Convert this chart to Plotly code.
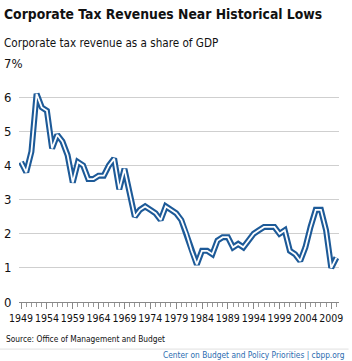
import plotly.graph_objects as go

years = list(range(1949, 2011))
revenue = [4.1, 3.8, 4.4, 6.1, 5.7, 5.6, 4.5, 4.9, 4.7, 4.3, 3.5, 4.1, 4.0, 3.6, 3.6, 3.7,
           3.7, 4.0, 4.2, 3.3, 3.9, 3.2, 2.5, 2.7, 2.8, 2.7, 2.6, 2.4, 2.8, 2.7, 2.6,
           2.4, 2.0, 1.5, 1.1, 1.5, 1.5, 1.4, 1.8, 1.9, 1.9, 1.6, 1.7, 1.6, 1.8, 2.0,
           2.1, 2.2, 2.2, 2.2, 2.0, 2.1, 1.5, 1.4, 1.2, 1.6, 2.2, 2.7, 2.7, 2.1, 1.0, 1.3]
x_ticks = [1949, 1954, 1959, 1964, 1969, 1974, 1979, 1984, 1989, 1994, 1999, 2004, 2009]
y_ticks = [0, 1, 2, 3, 4, 5, 6, 7]
y_labels = ["0", "1", "2", "3", "4", "5", "6", "7%"]

FONT = "DejaVu Sans Condensed, Liberation Sans Narrow, sans-serif"
BLUE = "#1d5a98"

fig = go.Figure()
fig.add_trace(go.Scatter(x=years, y=revenue, mode="lines",
                         line=dict(color=BLUE, width=6), hoverinfo="skip"))
fig.add_trace(go.Scatter(x=years, y=revenue, mode="lines",
                         line=dict(color="white", width=1.8), hoverinfo="skip"))

for v, lab in zip(y_ticks, y_labels):
    fig.add_annotation(x=0, xref="paper", xshift=-17, y=v, yref="y", text=lab,
                       showarrow=False, xanchor="left", yanchor="middle",
                       font=dict(family=FONT, size=13, color="#111"))

fig.add_annotation(x=0, y=1, xref="paper", yref="paper", xshift=-17, yshift=39,
                   text="<b>Corporate Tax Revenues Near Historical Lows</b>",
                   showarrow=False, xanchor="left", yanchor="bottom",
                   font=dict(family=FONT, size=13.8, color="#111"))
fig.add_annotation(x=0, y=1, xref="paper", yref="paper", xshift=-17, yshift=11,
                   text="Corporate tax revenue as a share of GDP",
                   showarrow=False, xanchor="left", yanchor="bottom",
                   font=dict(family=FONT, size=11.6, color="#111"))
fig.add_annotation(x=0, y=0, xref="paper", yref="paper", xshift=-15, yshift=-37,
                   text="Source: Office of Management and Budget",
                   showarrow=False, xanchor="left", yanchor="middle",
                   font=dict(family=FONT, size=8.3, color="#111"))
fig.add_annotation(x=1, y=0, xref="paper", yref="paper", xshift=8, yshift=-53,
                   text="Center on Budget and Policy Priorities | cbpp.org",
                   showarrow=False, xanchor="right", yanchor="middle",
                   font=dict(family=FONT, size=8.3, color="#2b6cb0"))
fig.add_shape(type="line", xref="paper", yref="paper", x0=-0.06, x1=1.03,
              y0=-0.197, y1=-0.197, line=dict(color="#e0e0e0", width=1))

fig.update_layout(
    width=352, height=361,
    margin=dict(l=17, r=9, t=63, b=59),
    paper_bgcolor="white", plot_bgcolor="white",
    showlegend=False,
    xaxis=dict(range=[1948.6, 2010.5], tickvals=x_ticks, ticks="outside",
               ticklen=6, tickcolor="#888", showgrid=False, tickangle=0,
               showline=True, linecolor="#888", linewidth=1,
               minor=dict(dtick=1, tick0=1949, ticks="outside", ticklen=4,
                          tickcolor="#999", showgrid=False),
               tickfont=dict(family=FONT, size=10.5, color="#111"),
               zeroline=False, fixedrange=True),
    yaxis=dict(range=[0, 7], tickvals=y_ticks, showticklabels=False,
               showgrid=True, gridcolor="#cfcfcf", gridwidth=1,
               zeroline=False, showline=False, fixedrange=True),
)

fig.write_html("out.html")
